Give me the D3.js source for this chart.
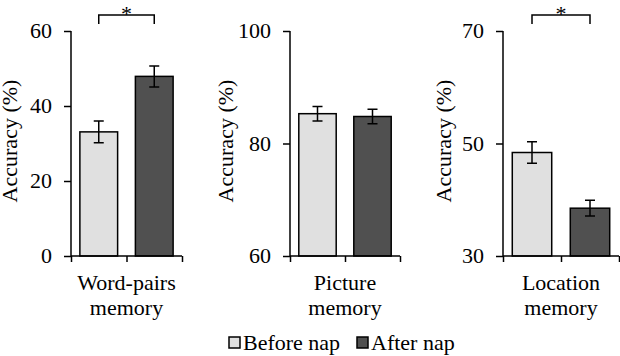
<!DOCTYPE html>
<html>
<head>
<meta charset="utf-8">
<script src="https://cdn.jsdelivr.net/npm/d3@7"></script>
</head>
<body style="margin:0">
<svg id="chart" width="620" height="356" font-family="Liberation Serif"></svg>
<script>
// values
const panelLabels = [['Word-pairs', 'memory'], ['Picture', 'memory'], ['Location', 'memory']];
const seriesNames = ['Before nap', 'After nap'];
const beforeNap = [33.1, 85.3, 48.4];
const afterNap = [47.9, 84.8, 38.5];
const beforeErr = [2.9, 1.3, 1.9];
const afterErr = [2.8, 1.3, 1.4];
const yDomains = [[0, 60], [60, 100], [30, 70]];
const yTickValues = [[0, 20, 40, 60], [60, 80, 100], [30, 50, 70]];
const significant = [true, false, true];

const colors = ['#e0e0e0', '#505050'];
const fontSize = 22;
const serif = 'Liberation Serif';

// where each small panel sits (x of y-axis, x of axis end)
const layout = [
    { x0: 71, x1: 182, titleX: 17 },
    { x0: 290, x1: 400, titleX: 233 },
    { x0: 503, x1: 619, titleX: 451 }
];
const plotTop = 31, plotBottom = 256;

const svg = d3.select('#chart');

function addText(parent) {
    return parent.append('text')
        .attr('font-family', serif)
        .attr('font-size', fontSize)
        .attr('fill', '#000');
}

layout.forEach((p, i) => {
    const x = d3.scaleBand()
        .domain(seriesNames)
        .range([p.x0, p.x1])
        .paddingInner(0.32)
        .paddingOuter(0.16);

    const y = d3.scaleLinear()
        .domain(yDomains[i])
        .range([plotBottom, plotTop]);

    const vals = [beforeNap[i], afterNap[i]];
    const errs = [beforeErr[i], afterErr[i]];
    const rows = seriesNames.map((s, j) => ({ key: s, v: vals[j], e: errs[j], c: colors[j] }));
    const mid = d => x(d.key) + x.bandwidth() / 2;

    svg.selectAll(`rect.bar${i}`)
        .data(rows)
        .join('rect')
        .attr('class', `bar${i}`)
        .attr('x', d => x(d.key))
        .attr('y', d => y(d.v))
        .attr('width', x.bandwidth())
        .attr('height', d => y(yDomains[i][0]) - y(d.v))
        .attr('fill', d => d.c)
        .attr('stroke', '#000')
        .attr('stroke-width', 1.5);

    // error bars
    const ebPath = d => {
        const c = mid(d), hi = y(d.v + d.e), lo = y(d.v - d.e);
        return `M${c},${hi}V${lo}M${c - 5},${hi}H${c + 5}M${c - 5},${lo}H${c + 5}`;
    };
    svg.selectAll(`path.err${i}`)
        .data(rows)
        .join('path')
        .attr('class', `err${i}`)
        .attr('d', ebPath)
        .attr('fill', 'none')
        .attr('stroke', '#000')
        .attr('stroke-width', 1.5);

    // y axis (labels drawn separately)
    const yG = svg.append('g')
        .attr('transform', `translate(${p.x0},0)`)
        .call(d3.axisLeft(y).tickValues(yTickValues[i]).tickSize(7).tickFormat(''));

    yTickValues[i].forEach(t => {
        addText(svg)
            .attr('x', p.x0 - 19)
            .attr('y', y(t) + 7)
            .attr('text-anchor', 'end')
            .text(d3.format('d')(t));
    });

    // x axis with ticks at category boundaries
    const xb = d3.scaleLinear().domain([0, 2]).range([p.x0, p.x1]);
    const xG = svg.append('g')
        .attr('transform', `translate(0,${plotBottom})`)
        .call(d3.axisBottom(xb).tickValues([0, 1, 2]).tickSize(6).tickFormat(''));

    [yG, xG].forEach(a => {
        a.select('.domain').attr('stroke', '#000').attr('stroke-width', 1.5);
        a.selectAll('.tick line').attr('stroke', '#000').attr('stroke-width', 1.5);
    });
    yG.select('.domain').attr('d', `M0,${plotBottom}V${plotTop}`);
    xG.select('.domain').attr('d', `M${p.x0},0H${p.x1}`);

    // y title
    addText(svg)
        .attr('transform', `translate(${p.titleX},141) rotate(-90)`)
        .attr('text-anchor', 'middle')
        .text('Accuracy (%)');

    // category label
    const cx = (p.x0 + p.x1) / 2;
    panelLabels[i].forEach((line, k) => {
        addText(svg)
            .attr('x', cx)
            .attr('y', 290 + k * 25)
            .attr('text-anchor', 'middle')
            .text(line);
    });

    // significance bracket
    if (significant[i]) {
        const a = mid(rows[0]);
        const b = mid(rows[1]);
        svg.append('path')
            .attr('d', `M${a},24V15H${b}V24`)
            .attr('fill', 'none')
            .attr('stroke', '#000')
            .attr('stroke-width', 1.5);
        addText(svg)
            .attr('x', (a + b) / 2)
            .attr('y', 21)
            .attr('text-anchor', 'middle')
            .text('*');
    }
});

// legend
const legendX = [229, 357];
seriesNames.forEach((s, j) => {
    svg.append('rect')
        .attr('x', legendX[j])
        .attr('y', 337)
        .attr('width', 11)
        .attr('height', 11)
        .attr('fill', colors[j])
        .attr('stroke', '#000')
        .attr('stroke-width', 1.5);
    addText(svg)
        .attr('x', legendX[j] + 14)
        .attr('y', 350)
        .text(s);
});
</script>
</body>
</html>
